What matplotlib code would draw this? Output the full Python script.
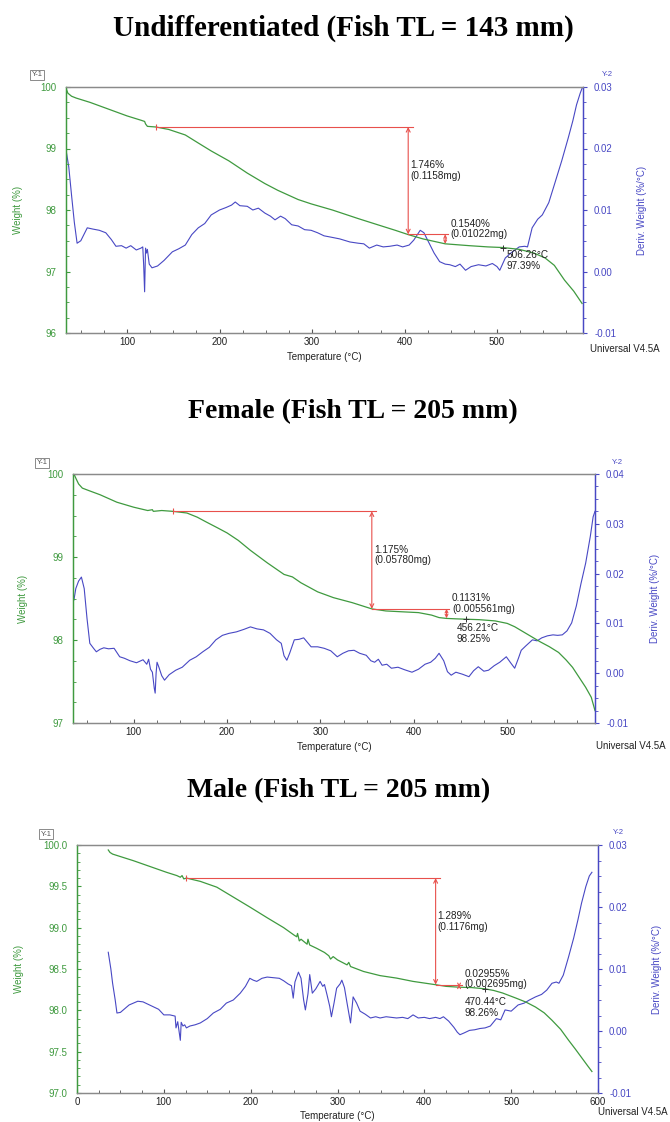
import numpy as np
import matplotlib
matplotlib.use('Agg')
import matplotlib.pyplot as plt
from matplotlib.ticker import MultipleLocator, AutoMinorLocator, FormatStrFormatter

plt.rcParams['font.family'] = ['Liberation Sans', 'DejaVu Sans']

GREEN = '#3f9a3f'
BLUE = '#4848c4'
RED = '#e8504c'
GRAY = '#8a8a8a'

# ---------------- Undifferentiated (Fish TL = 143 mm) ----------------
und_wt = [34, 36, 40, 45, 60, 80, 100, 115, 119, 120, 122, 131, 145, 163, 178, 191, 210, 230, 249,
          263, 285, 299, 322, 350, 371, 390, 404, 420, 444, 470, 490, 506, 524, 540, 552, 562, 573, 583, 592]
und_w = [99.98, 99.90, 99.85, 99.82, 99.75, 99.64, 99.53, 99.46, 99.44, 99.40, 99.36, 99.35, 99.31, 99.22,
         99.08, 98.96, 98.80, 98.60, 98.43, 98.32, 98.17, 98.10, 98.00, 97.86, 97.76, 97.67, 97.60, 97.53,
         97.45, 97.42, 97.40, 97.39, 97.36, 97.30, 97.22, 97.10, 96.86, 96.68, 96.48]
und_dt = [34, 37, 40, 43, 46, 50, 57, 63, 70, 77, 83, 88, 94, 99, 104, 110, 115, 117, 118, 119, 120, 121,
          122, 124, 127, 133, 140, 149, 156, 163, 170, 177, 184, 191, 200, 207, 213, 217, 222, 230, 236,
          242, 249, 255, 260, 266, 271, 278, 285, 292, 299, 306, 313, 320, 330, 341, 350, 356, 362, 370,
          377, 384, 392, 398, 405, 410, 417, 421, 426, 432, 438, 444, 449, 455, 460, 466, 472, 480, 488,
          495, 500, 503, 506, 509, 515, 524, 530, 533, 538, 544, 549, 556, 562, 570, 577, 582, 586, 590, 592]
und_d = [0.0198, 0.0170, 0.0124, 0.0080, 0.0046, 0.0050, 0.0071, 0.0069, 0.0067, 0.0063, 0.0052, 0.0041,
         0.0042, 0.0038, 0.0042, 0.0035, 0.0038, 0.0040, 0.0010, -0.0033, 0.0038, 0.0030, 0.0036, 0.0012,
         0.0006, 0.0009, 0.0018, 0.0032, 0.0037, 0.0043, 0.0060, 0.0071, 0.0078, 0.0092, 0.0100, 0.0104,
         0.0108, 0.0113, 0.0107, 0.0106, 0.0100, 0.0103, 0.0095, 0.0090, 0.0084, 0.0090, 0.0086, 0.0076,
         0.0074, 0.0068, 0.0067, 0.0063, 0.0058, 0.0056, 0.0053, 0.0048, 0.0046, 0.0045, 0.0038, 0.0043,
         0.0040, 0.0041, 0.0043, 0.0040, 0.0043, 0.0051, 0.0067, 0.0063, 0.0048, 0.0030, 0.0016, 0.0012,
         0.0011, 0.0008, 0.0012, 0.0002, 0.0008, 0.0011, 0.0009, 0.0013, 0.0008, 0.0002, 0.0012, 0.0022,
         0.0030, 0.0040, 0.0041, 0.0040, 0.0071, 0.0085, 0.0092, 0.0112, 0.0141, 0.0180, 0.0217, 0.0245,
         0.0271, 0.0290, 0.0298]
und_steps = [131, 404, 444, 99.35, 97.604, 97.45]  # onset T, step1 T, step2 T, levels
und_point = [506.26, 97.39]
und_labels = ['1.746%\n(0.1158mg)', '0.1540%\n(0.01022mg)', '506.26°C\n97.39%']

# ---------------- Female (Fish TL = 205 mm) ----------------
fem_wt = [36, 38, 41, 45, 52, 64, 82, 100, 115, 120, 121, 130, 142, 157, 168, 178, 190, 200, 212, 225,
          243, 261, 270, 279, 297, 314, 334, 355, 370, 387, 405, 419, 427, 435, 445, 457, 470, 487, 500,
          508, 517, 526, 535, 545, 555, 563, 570, 577, 584, 590, 594]
fem_w = [100.0, 99.95, 99.88, 99.83, 99.80, 99.75, 99.66, 99.60, 99.56, 99.57, 99.55, 99.56, 99.55, 99.53,
         99.48, 99.42, 99.35, 99.29, 99.20, 99.08, 98.93, 98.79, 98.76, 98.69, 98.58, 98.51, 98.45, 98.375,
         98.35, 98.34, 98.33, 98.30, 98.27, 98.26, 98.255, 98.25, 98.245, 98.23, 98.20, 98.16, 98.10, 98.04,
         97.98, 97.92, 97.85, 97.76, 97.67, 97.55, 97.43, 97.31, 97.15]
fem_dt = [36, 38, 41, 44, 47, 50, 53, 57, 60, 64, 68, 73, 79, 85, 90, 96, 103, 110, 114, 116, 118, 120,
          122, 123, 124, 125, 127, 130, 133, 138, 145, 152, 160, 167, 174, 181, 188, 195, 202, 210, 218,
          225, 232, 239, 246, 253, 258, 261, 264, 267, 272, 277, 282, 286, 290, 297, 304, 311, 318, 324,
          330, 336, 342, 349, 354, 358, 362, 366, 371, 376, 383, 390, 398, 405, 412, 418, 423, 427, 432,
          436, 440, 445, 452, 459, 464, 469, 475, 480, 486, 492, 499, 504, 508, 512, 515, 520, 527, 532,
          537, 543, 549, 554, 559, 564, 569, 574, 579, 584, 589, 592, 594]
fem_d = [0.0147, 0.0170, 0.0185, 0.0193, 0.0170, 0.0110, 0.0060, 0.0050, 0.0043, 0.0048, 0.0051, 0.0049,
         0.0050, 0.0033, 0.0030, 0.0025, 0.0021, 0.0027, 0.0018, 0.0028, 0.0008, 0.0002, -0.0030, -0.0040,
         0.0000, 0.0022, 0.0012, -0.0005, -0.0014, -0.0003, 0.0006, 0.0012, 0.0026, 0.0033, 0.0043, 0.0052,
         0.0067, 0.0076, 0.0080, 0.0083, 0.0088, 0.0093, 0.0089, 0.0087, 0.0080, 0.0067, 0.0060, 0.0035,
         0.0026, 0.0040, 0.0067, 0.0068, 0.0071, 0.0062, 0.0053, 0.0053, 0.0050, 0.0045, 0.0033, 0.0040,
         0.0045, 0.0046, 0.0040, 0.0036, 0.0025, 0.0022, 0.0028, 0.0016, 0.0018, 0.0010, 0.0012, 0.0007,
         0.0002, 0.0008, 0.0018, 0.0022, 0.0030, 0.0040, 0.0025, 0.0003, -0.0004, 0.0002, -0.0002, -0.0007,
         0.0005, 0.0013, 0.0004, 0.0006, 0.0015, 0.0022, 0.0033, 0.0020, 0.0010, 0.0030, 0.0046, 0.0055,
         0.0067, 0.0065, 0.0071, 0.0075, 0.0077, 0.0076, 0.0077, 0.0085, 0.0101, 0.0135, 0.0180, 0.0221,
         0.0275, 0.0314, 0.0325]
fem_steps = [142, 355, 435, 99.55, 98.375, 98.262]
fem_point = [456.21, 98.25]
fem_labels = ['1.175%\n(0.05780mg)', '0.1131%\n(0.005561mg)', '456.21°C\n98.25%']

# ---------------- Male (Fish TL = 205 mm) ----------------
mal_wt = [36, 38, 41, 50, 65, 84, 103, 115, 119, 121, 123, 126, 142, 161, 180, 199, 219, 238, 250, 253,
          254, 256, 258, 265, 266, 268, 272, 276, 285, 290, 292, 295, 300, 311, 313, 315, 330, 349, 368,
          387, 400, 413, 425, 440, 455, 470, 480, 490, 505, 517, 528, 538, 547, 557, 566, 574, 581, 588, 593]
mal_w = [99.94, 99.91, 99.89, 99.86, 99.81, 99.74, 99.67, 99.63, 99.61, 99.63, 99.59, 99.60, 99.56, 99.49,
         99.37, 99.25, 99.12, 99.00, 98.91, 98.89, 98.93, 98.84, 98.86, 98.80, 98.86, 98.79, 98.77, 98.75,
         98.70, 98.66, 98.62, 98.65, 98.61, 98.55, 98.58, 98.53, 98.47, 98.42, 98.39, 98.35, 98.33, 98.31,
         98.29, 98.28, 98.275, 98.26, 98.24, 98.21, 98.15, 98.10, 98.04, 97.97, 97.88, 97.77, 97.64, 97.53,
         97.43, 97.33, 97.26]
mal_dt = [36, 39, 41, 44, 46, 50, 55, 60, 65, 70, 76, 82, 88, 94, 100, 107, 113, 114, 116, 117, 119, 120,
          122, 124, 126, 130, 136, 142, 150, 157, 165, 172, 180, 188, 194, 199, 203, 207, 213, 219, 226,
          233, 238, 243, 247, 249, 251, 255, 258, 261, 263, 266, 268, 271, 275, 280, 283, 285, 288, 291,
          293, 296, 299, 303, 305, 308, 311, 315, 318, 322, 326, 332, 338, 344, 349, 356, 362, 368, 375,
          381, 387, 393, 400, 406, 413, 418, 422, 428, 434, 438, 441, 446, 452, 458, 464, 470, 476, 483,
          488, 493, 500, 508, 515, 521, 528, 535, 541, 547, 552, 555, 560, 566, 572, 577, 581, 586, 590, 593]
mal_d = [0.0127, 0.0100, 0.0077, 0.0050, 0.0029, 0.0030, 0.0036, 0.0042, 0.0045, 0.0048, 0.0047, 0.0043,
         0.0039, 0.0035, 0.0026, 0.0026, 0.0024, 0.0005, 0.0015, 0.0005, -0.0015, 0.0014, 0.0008, 0.0010,
         0.0005, 0.0008, 0.0010, 0.0013, 0.0020, 0.0029, 0.0035, 0.0045, 0.0050, 0.0061, 0.0072, 0.0085,
         0.0082, 0.0080, 0.0085, 0.0087, 0.0086, 0.0085, 0.0081, 0.0076, 0.0073, 0.0053, 0.0079, 0.0095,
         0.0085, 0.0050, 0.0034, 0.0060, 0.0091, 0.0061, 0.0068, 0.0080, 0.0072, 0.0075, 0.0058, 0.0040,
         0.0023, 0.0045, 0.0069, 0.0076, 0.0082, 0.0070, 0.0045, 0.0013, 0.0055, 0.0045, 0.0032, 0.0027,
         0.0021, 0.0023, 0.0021, 0.0023, 0.0022, 0.0021, 0.0022, 0.0020, 0.0026, 0.0021, 0.0022, 0.0020,
         0.0022, 0.0020, 0.0023, 0.0016, 0.0006, -0.0002, -0.0006, -0.0003, 0.0001, 0.0002, 0.0004, 0.0005,
         0.0008, 0.0020, 0.0018, 0.0034, 0.0032, 0.0042, 0.0045, 0.0050, 0.0055, 0.0059, 0.0066, 0.0077,
         0.0079, 0.0077, 0.0090, 0.0119, 0.0150, 0.0180, 0.0206, 0.0233, 0.0250, 0.0256]
mal_steps = [126, 413, 440, 99.60, 98.311, 98.281]
mal_point = [470.44, 98.26]
mal_labels = ['1.289%\n(0.1176mg)', '0.02955%\n(0.002695mg)', '470.44°C\n98.26%']

titles = ['Undifferentiated (Fish TL = 143 mm)', 'Female (Fish TL = 205 mm)', 'Male (Fish TL = 205 mm)']

fig = plt.figure(figsize=(6.7, 11.22), dpi=100)
W, H = 670.0, 1122.0


def rect(l, t, r, b):
    return [l / W, 1 - b / H, (r - l) / W, (b - t) / H]


panels = [
    dict(rect=rect(66, 87, 583, 333), xlim=(34, 593), ylim=(96, 100), y2=(-0.01, 0.03), y2step=0.01,
         ystep=1, yminor=4, yfmt='%d', wt=und_wt, w=und_w, dt=und_dt, d=und_d,
         steps=und_steps, pt=und_point, labels=und_labels, ptoff=(3, -2),
         title_xy=(113, 28), title_fs=21, ylab_x=-0.083, y2lab_x=1.104, xlab_y=-0.078,
         uni=(590, 349), y1=(37, 75), y2lab=(607, 75)),
    dict(rect=rect(73, 474, 595, 723), xlim=(35, 594), ylim=(97, 100), y2=(-0.01, 0.04), y2step=0.01,
         ystep=1, yminor=4, yfmt='%d', wt=fem_wt, w=fem_w, dt=fem_dt, d=fem_d,
         steps=fem_steps, pt=fem_point, labels=fem_labels, ptoff=(-7, -3),
         title_xy=(188, 412), title_fs=20, ylab_x=-0.086, y2lab_x=1.105, xlab_y=-0.076,
         uni=(596, 746), y1=(42, 463), y2lab=(617, 462)),
    dict(rect=rect(77, 845, 598, 1093), xlim=(0, 600), ylim=(97, 100), y2=(-0.01, 0.03), y2step=0.01,
         ystep=0.5, yminor=5, yfmt='%.1f', wt=mal_wt, w=mal_w, dt=mal_dt, d=mal_d,
         steps=mal_steps, pt=mal_point, labels=mal_labels, ptoff=(-15, -6),
         title_xy=(187, 791), title_fs=20, ylab_x=-0.101, y2lab_x=1.103, xlab_y=-0.073,
         uni=(598, 1112), y1=(46, 834), y2lab=(618, 833)),
]

for p, title in zip(panels, titles):
    ax = fig.add_axes(p['rect'])
    ax2 = ax.twinx()
    ax.set_zorder(ax2.get_zorder() + 1)
    ax.patch.set_visible(False)

    ax.plot(p['wt'], p['w'], color=GREEN, lw=0.9)
    ax2.plot(p['dt'], p['d'], color=BLUE, lw=0.8)

    # step annotations
    t0, t1, t2, l0, l1, l2 = p['steps']
    ax.plot([t0, t1 + 5], [l0, l0], color=RED, lw=0.8)
    ax.plot([t0], [l0], marker='|', ms=5, mew=0.8, color=RED)
    ax.annotate('', xy=(t1, l1), xytext=(t1, l0),
                arrowprops=dict(arrowstyle='<->', color=RED, lw=0.8, shrinkA=0, shrinkB=0,
                                mutation_scale=7))
    ax.plot([t1, t2 + 3], [l1, l1], color=RED, lw=0.8)
    ax.annotate('', xy=(t2, l2), xytext=(t2, l1),
                arrowprops=dict(arrowstyle='<->', color=RED, lw=0.8, shrinkA=0, shrinkB=0,
                                mutation_scale=5))
    ax.plot([p['pt'][0]], [p['pt'][1]], marker='+', ms=5, mew=0.7, color='#333333')
    ax.annotate(p['labels'][0], xy=(t1, l0), xytext=(1.5, -24), textcoords='offset points',
                fontsize=7.2, color='#222222', va='top', ha='left', linespacing=1.05)
    ax.annotate(p['labels'][1], xy=(t2, l1), xytext=(4, 4), textcoords='offset points',
                fontsize=7.2, color='#222222', va='center', ha='left', linespacing=1.05)
    ax.annotate(p['labels'][2], xy=p['pt'], xytext=p['ptoff'], textcoords='offset points',
                fontsize=7.2, color='#222222', va='top', ha='left', linespacing=1.05)

    ax.set_xlim(*p['xlim'])
    ax.set_ylim(*p['ylim'])
    ax2.set_ylim(*p['y2'])

    ax.xaxis.set_major_locator(MultipleLocator(100))
    ax.xaxis.set_minor_locator(AutoMinorLocator(4))
    ax.yaxis.set_major_locator(MultipleLocator(p['ystep']))
    ax.yaxis.set_minor_locator(AutoMinorLocator(p['yminor']))
    ax.yaxis.set_major_formatter(FormatStrFormatter(p['yfmt']))
    ax2.yaxis.set_major_locator(MultipleLocator(p['y2step']))
    ax2.yaxis.set_minor_locator(AutoMinorLocator(4))
    ax2.yaxis.set_major_formatter(FormatStrFormatter('%.2f'))

    ax.tick_params(axis='x', which='both', direction='in', colors='#555555', labelcolor='#222222',
                   labelsize=7, pad=3)
    ax.tick_params(axis='x', which='major', length=3)
    ax.tick_params(axis='x', which='minor', length=2)
    ax.tick_params(axis='y', which='both', direction='in', colors=GREEN, labelsize=7, pad=7)
    ax.tick_params(axis='y', which='major', length=3)
    ax.tick_params(axis='y', which='minor', length=2)
    ax2.tick_params(axis='y', which='both', direction='out', colors=BLUE, labelsize=7, pad=5)
    ax2.tick_params(axis='y', which='major', length=3)
    ax2.tick_params(axis='y', which='minor', length=2)

    for a in (ax, ax2):
        a.spines['top'].set_color(GRAY)
        a.spines['bottom'].set_color(GRAY)
        a.spines['left'].set_color(GREEN)
        a.spines['right'].set_color(BLUE)
        for s in a.spines.values():
            s.set_linewidth(0.9)

    ax.set_ylabel('Weight (%)', color=GREEN, fontsize=7)
    ax.yaxis.set_label_coords(p['ylab_x'], 0.5)
    ax2.set_ylabel('Deriv. Weight (%/°C)', color=BLUE, fontsize=7)
    ax2.yaxis.set_label_coords(p['y2lab_x'], 0.5)
    ax.set_xlabel('Temperature (°C)', color='#222222', fontsize=7)
    ax.xaxis.set_label_coords(0.5, p['xlab_y'])

    tx, ty = p['title_xy']
    fig.text(tx / W, 1 - ty / H, title, ha='left', va='center', fontsize=p['title_fs'],
             fontweight='bold', family='Liberation Serif')
    ux, uy = p['uni']
    fig.text(ux / W, 1 - uy / H, 'Universal V4.5A', ha='left', va='center', fontsize=7, color='#222222')
    yx, yy = p['y1']
    fig.text(yx / W, 1 - yy / H, 'Y-1', ha='center', va='center', fontsize=5.5, color='#555555',
             bbox=dict(boxstyle='square,pad=0.25', fc='white', ec='#777777', lw=0.6))
    zx, zy = p['y2lab']
    fig.text(zx / W, 1 - zy / H, 'Y-2', ha='center', va='center', fontsize=5.5, color=BLUE)

fig.savefig('out.png', dpi=100)
